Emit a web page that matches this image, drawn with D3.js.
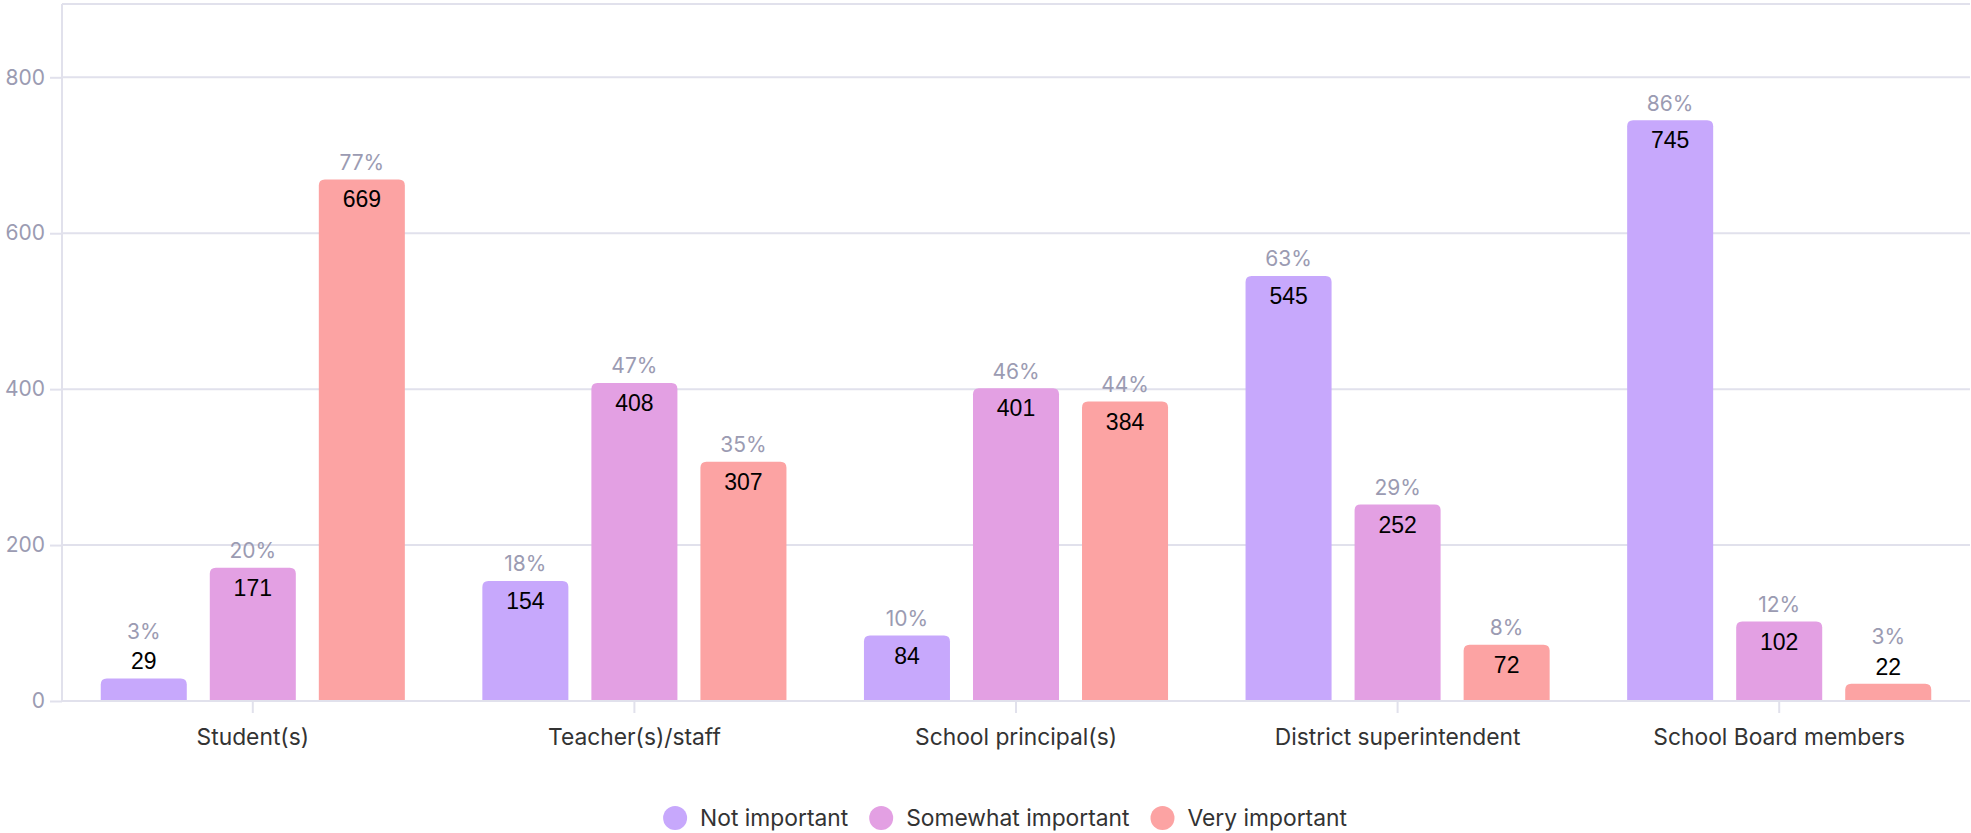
<!DOCTYPE html>
<html>
<head>
<meta charset="utf-8">
<script src="https://cdn.jsdelivr.net/npm/d3@7"></script>
<style>
  body { margin: 0; background: #fff; }
  text { font-family: Inter, "Noto Sans", sans-serif; }
</style>
</head>
<body>
<div id="chart"></div>
<script>
// data
const categories = ["Student(s)", "Teacher(s)/staff", "School principal(s)", "District superintendent", "School Board members"];
const seriesNames = ["Not important", "Somewhat important", "Very important"];
const notImportant = [29, 154, 84, 545, 745];
const somewhatImportant = [171, 408, 401, 252, 102];
const veryImportant = [669, 307, 384, 72, 22];
const yTicks = [0, 200, 400, 600, 800];
const colors = ["#c7a8fc", "#e3a0e3", "#fca3a3"];

const seriesValues = [notImportant, somewhatImportant, veryImportant];

const width = 1971, height = 833;
const margin = {top: 4, right: 1, left: 62, bottom: 132};
const gridColor = "#e1e1ec";
const mutedText = "#9b9bb2";

const rows = categories.map((c, i) => {
  const vals = seriesValues.map(s => s[i]);
  const total = d3.sum(vals);
  return {
    category: c,
    bars: vals.map((v, j) => ({series: seriesNames[j], value: v, pct: Math.round(v / total * 100)}))
  };
});

const svg = d3.select("#chart").append("svg")
  .attr("width", width)
  .attr("height", height);

const x0 = d3.scaleBand()
  .domain(categories)
  .range([margin.left, width - margin.right])
  .padding(0);

const inner = 38.75;
const x1 = d3.scaleBand()
  .domain(seriesNames)
  .range([inner, x0.bandwidth() - inner])
  .paddingInner(0.211)
  .paddingOuter(0);

const y = d3.scaleLinear()
  .domain([0, d3.max(seriesValues.flat()) * 1.2])
  .range([height - margin.bottom, margin.top]);

// grid lines
svg.append("g")
  .selectAll("line")
  .data(yTicks.slice(1))
  .enter().append("line")
    .attr("x1", margin.left)
    .attr("x2", width - margin.right)
    .attr("y1", d => y(d))
    .attr("y2", d => y(d))
    .attr("stroke", gridColor)
    .attr("stroke-width", 2);

// top border of plot
svg.append("line")
  .attr("x1", margin.left).attr("x2", width - margin.right)
  .attr("y1", y.range()[1]).attr("y2", y.range()[1])
  .attr("stroke", gridColor).attr("stroke-width", 2);

// y axis
const yAxis = svg.append("g")
  .attr("transform", `translate(${margin.left},0)`)
  .call(d3.axisLeft(y).tickValues(yTicks).tickSize(12).tickPadding(5));
yAxis.select(".domain").remove();
yAxis.selectAll("line").attr("stroke", gridColor).attr("stroke-width", 2);
yAxis.selectAll("text")
  .attr("fill", mutedText)
  .style("font-size", "21px")
  .style("font-family", "Inter, sans-serif");
svg.append("line")
  .attr("x1", margin.left).attr("x2", margin.left)
  .attr("y1", y.range()[1]).attr("y2", y(0))
  .attr("stroke", gridColor).attr("stroke-width", 2);

// bars
const r = 6;
function topRounded(x, yTop, w, yBase) {
  const h = yBase - yTop;
  const rr = Math.min(r, h, w / 2);
  return `M${x},${yBase}V${yTop + rr}Q${x},${yTop} ${x + rr},${yTop}H${x + w - rr}Q${x + w},${yTop} ${x + w},${yTop + rr}V${yBase}Z`;
}

const groups = svg.append("g")
  .selectAll("g")
  .data(rows)
  .enter().append("g")
    .attr("transform", d => `translate(${x0(d.category)},0)`);

groups.selectAll("path")
  .data(d => d.bars)
  .enter().append("path")
    .attr("fill", (d, j) => colors[j])
    .attr("d", d => topRounded(x1(d.series), y(d.value), x1.bandwidth(), y(0)));

const labels = groups.selectAll("g.lbl")
  .data(d => d.bars)
  .enter().append("g")
    .attr("class", "lbl")
    .attr("transform", d => `translate(${x1(d.series) + x1.bandwidth() / 2},${y(d.value)})`);

labels.append("text")
  .attr("text-anchor", "middle")
  .attr("dy", "0.35em")
  .attr("y", d => (y(0) - y(d.value) < 30) ? -17 : 20)
  .style("font-family", "'Liberation Sans', Arial, sans-serif")
  .style("font-size", "23px")
  .attr("fill", "#000")
  .text(d => d.value);

labels.append("text")
  .attr("text-anchor", "middle")
  .attr("dy", "0.35em")
  .attr("y", d => (y(0) - y(d.value) < 30) ? -47 : -17)
  .style("font-size", "21px")
  .attr("fill", mutedText)
  .text(d => d.pct + "%");

// x axis
svg.append("line")
  .attr("x1", margin.left).attr("x2", width - margin.right)
  .attr("y1", y(0)).attr("y2", y(0))
  .attr("stroke", gridColor).attr("stroke-width", 2);

const xAxis = svg.append("g")
  .attr("transform", `translate(0,${y(0)})`)
  .call(d3.axisBottom(x0).tickSize(12).tickPadding(16));
xAxis.select(".domain").remove();
xAxis.selectAll("line").attr("stroke", gridColor).attr("stroke-width", 2);
xAxis.selectAll("text")
  .attr("fill", "#333")
  .style("font-size", "22.8px")
  .style("font-family", "Inter, sans-serif");

// legend
const legend = svg.append("g");
const items = legend.selectAll("g")
  .data(seriesNames)
  .enter().append("g");
items.append("circle")
  .attr("r", 12)
  .attr("cx", 12)
  .attr("fill", (d, i) => colors[i]);
items.append("text")
  .attr("x", 37)
  .attr("dy", "0.35em")
  .attr("fill", "#333")
  .style("font-size", "22.8px")
  .text(d => d);

let cursor = 0;
items.each(function() {
  const w = 37 + d3.select(this).select("text").node().getComputedTextLength();
  d3.select(this).attr("transform", `translate(${cursor},0)`);
  cursor += w + 21;
});
const legendWidth = cursor - 21;
legend.attr("transform", `translate(${1005 - legendWidth / 2},818)`);
</script>
</body>
</html>
